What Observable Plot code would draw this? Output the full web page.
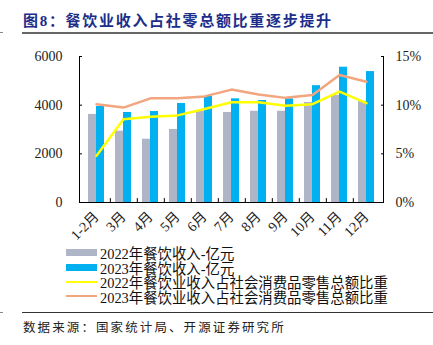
<!DOCTYPE html>
<html><head><meta charset="utf-8">
<script src="https://cdn.jsdelivr.net/npm/d3@7"></script>
<script src="https://cdn.jsdelivr.net/npm/@observablehq/plot@0.6"></script>
<style>
body{margin:0;background:#fff;}
#wrap{position:relative;width:433px;height:345px;overflow:hidden;font-family:"Liberation Serif","Noto Sans CJK SC",serif;}
#title{position:absolute;left:23px;top:9px;font-size:15px;font-weight:bold;color:#1c2e8a;letter-spacing:1.7px;white-space:nowrap;font-family:"Liberation Serif","Noto Sans CJK SC",serif;}
.hr{position:absolute;background:#555;}
#chart{position:absolute;left:0;top:40px;}
#legend{position:absolute;left:66px;top:245.5px;font-size:14.4px;color:#111;}
.row{display:flex;align-items:center;height:14.5px;white-space:nowrap;}
.sw{width:31px;margin-right:3px;}
#cap{position:absolute;left:23px;top:317px;font-size:12.5px;color:#222;letter-spacing:2.1px;white-space:nowrap;font-family:"Noto Sans CJK SC",sans-serif;}
</style></head>
<body>
<div id="wrap">
  <div id="title">图8：餐饮业收入占社零总额比重逐步提升</div>
  <div class="hr" style="left:22px;top:32px;width:411px;height:1.5px;background:#666"></div>
  <div class="hr" style="left:0;top:32px;width:3px;height:1px;background:#888"></div>
  <div id="chart"></div>
  <div id="legend"></div>
  <div class="hr" style="left:22px;top:312px;width:411px;height:1px;background:#333"></div>
  <div class="hr" style="left:0;top:312px;width:3px;height:1px;background:#888"></div>
  <div id="cap">数据来源：国家统计局、开源证券研究所</div>
</div>
<script>
const months = ["1-2月","3月","4月","5月","6月","7月","8月","9月","10月","11月","12月"];
const rev2022 = [3620, 2930, 2600, 3000, 3750, 3700, 3750, 3750, 4110, 4400, 4160];
const rev2023 = [3945, 3700, 3740, 4070, 4360, 4260, 4190, 4260, 4800, 5560, 5380];
const share2022 = [4.8, 8.55, 8.8, 8.95, 9.6, 10.3, 10.3, 9.95, 10.1, 11.4, 10.2];
const share2023 = [10.1, 9.75, 10.7, 10.7, 10.9, 11.6, 11.1, 10.75, 11.05, 13.1, 12.4];
const leftTicks = [0, 2000, 4000, 6000];
const rightTicks = [0, 5, 10, 15];
const seriesNames = ["2022年餐饮收入-亿元","2023年餐饮收入-亿元","2022年餐饮业收入占社会消费品零售总额比重","2023年餐饮业收入占社会消费品零售总额比重"];
const colors = ["#adb5c6","#00b0f0","#ffff00","#f3a57f"];

const ratio = 6000 / 15; // right axis maps 15% to 6000
const bars22 = months.map((m,i)=>({m, v: rev2022[i]}));
const bars23 = months.map((m,i)=>({m, v: rev2023[i]}));
const l22 = months.map((m,i)=>({m, v: share2022[i]*ratio}));
const l23 = months.map((m,i)=>({m, v: share2023[i]*ratio}));
const step = (433-79-50)/11;

const chart = Plot.plot({
  width: 433, height: 205,
  marginLeft: 79, marginRight: 50, marginTop: 16, marginBottom: 43,
  style: {fontFamily: '"Liberation Serif","Noto Sans CJK SC",serif', fontSize: "14px", color: "#222", background: "transparent"},
  x: {domain: months, paddingInner: 0.42, paddingOuter: 0.21},
  y: {domain: [0, 6000]},
  marks: [
    Plot.barY(bars22, {x: "m", y: "v", fill: colors[0], insetRight: 8}),
    Plot.barY(bars23, {x: "m", y: "v", fill: colors[1], insetLeft: 8}),
    Plot.line(l23, {x: "m", y: "v", stroke: colors[3], strokeWidth: 2.5}),
    Plot.line(l22, {x: "m", y: "v", stroke: colors[2], strokeWidth: 2.5}),
    Plot.frame({anchor: "left", stroke: "#000"}),
    Plot.frame({anchor: "right", stroke: "#000"}),
    Plot.frame({anchor: "bottom", stroke: "#000"}),
    Plot.ruleX(months.slice(0, -1), {x: d => d, dx: step/2, y1: 0, y2: 160, stroke: "#000"}),
    Plot.axisY({anchor: "left", ticks: leftTicks, tickFormat: d3.format("d"), tickSize: -3, tickPadding: 20, label: null, stroke: "#000", strokeOpacity: 1, fontSize: 14}),
    Plot.axisY({anchor: "right", ticks: rightTicks.map(t => t*ratio), tickFormat: d => (d/ratio) + "%", tickSize: -3, tickPadding: 15, label: null, stroke: "#000", strokeOpacity: 1, fontSize: 14}),
    Plot.axisX({ticks: months, tickRotate: -45, tickSize: 0, tickPadding: 12, label: null, fontSize: 14})
  ]
});
document.getElementById("chart").appendChild(chart);

const leg = document.getElementById("legend");
seriesNames.forEach((name, i) => {
  const row = document.createElement("div");
  row.className = "row";
  const sw = document.createElement("div");
  sw.className = "sw";
  sw.style.height = i < 2 ? "7px" : "2.2px";
  sw.style.background = colors[i];
  const t = document.createElement("span");
  t.textContent = name;
  row.appendChild(sw); row.appendChild(t);
  leg.appendChild(row);
});
</script>
</body></html>
